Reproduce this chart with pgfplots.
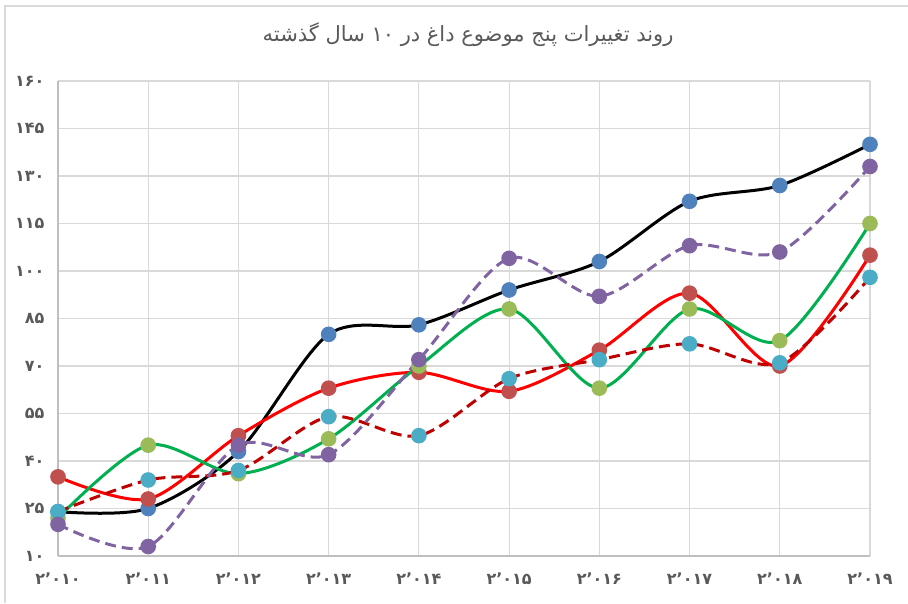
\documentclass[border=0pt]{standalone}
\usepackage{fontspec}
\usepackage{pgfplots}
\pgfplotsset{compat=1.18}
\TeXXeTstate=1
\newfontfamily\arabicfont[Script=Arabic]{DejaVu Sans}
\definecolor{mblue}{HTML}{4F81BD}
\definecolor{mred}{HTML}{C0504D}
\definecolor{mgreen}{HTML}{9BBB59}
\definecolor{mcyan}{HTML}{4BACC6}
\definecolor{mpurple}{HTML}{8064A2}
\definecolor{lgreen}{HTML}{00B050}
\definecolor{lred}{HTML}{FF0000}
\definecolor{ldred}{HTML}{C00000}
\definecolor{gridgray}{HTML}{D9D9D9}
\definecolor{axgray}{HTML}{BFBFBF}
\definecolor{txtgray}{HTML}{595959}
\begin{document}
\begin{tikzpicture}
\path[use as bounding box] (0,0) rectangle (908pt,603pt);
\draw[gridgray, line width=1.5pt] (5pt,0) -- (5pt,597pt) -- (908pt,597pt);
\begin{axis}[
  at={(58pt,47pt)}, anchor=south west,
  width=812pt, height=475pt, scale only axis,
  xmin=2010, xmax=2019, ymin=10, ymax=160,
  xtick={2010,2011,2012,2013,2014,2015,2016,2017,2018,2019},
  xticklabels={۲٬۰۱۰,۲٬۰۱۱,۲٬۰۱۲,۲٬۰۱۳,۲٬۰۱۴,۲٬۰۱۵,۲٬۰۱۶,۲٬۰۱۷,۲٬۰۱۸,۲٬۰۱۹},
  ytick={10,25,40,55,70,85,100,115,130,145,160},
  yticklabels={۱۰,۲۵,۴۰,۵۵,۷۰,۸۵,۱۰۰,۱۱۵,۱۳۰,۱۴۵,۱۶۰},
  grid=major,
  major grid style={draw=gridgray, line width=1.2pt},
  axis lines=left,
  axis line style={-, draw=axgray, line width=1.5pt},
  tick style={draw=none},
  ticklabel style={font=\arabicfont\bfseries\fontsize{16}{18}\selectfont, text=txtgray},
  xticklabel style={yshift=-11pt},
  yticklabel style={xshift=-8pt},
  title={\arabicfont\fontsize{21}{24}\selectfont\beginR روند تغییرات پنج موضوع داغ در ۱۰ سال گذشته\endR},
  title style={at={(0.505,1)}, anchor=center, yshift=40pt, text=txtgray},
  every axis plot/.append style={smooth, line width=3pt, mark=*, mark size=6.3pt},
  clip=false,
]
% series 1: black line, blue markers
\addplot[black, mark options={solid, fill=mblue, draw=mblue}] coordinates {
(2010,24) (2011,25) (2012,43) (2013,80) (2014,83) (2015,94) (2016,103) (2017,122) (2018,127) (2019,140)};
% series 2: red line, red markers
\addplot[lred, mark options={solid, fill=mred, draw=mred}] coordinates {
(2010,35) (2011,28) (2012,48) (2013,63) (2014,68) (2015,62) (2016,75) (2017,93) (2018,70) (2019,105)};
% series 3: green line, light green markers
\addplot[lgreen, mark options={solid, fill=mgreen, draw=mgreen}] coordinates {
(2010,22) (2011,45) (2012,36) (2013,47) (2014,70) (2015,88) (2016,63) (2017,88) (2018,78) (2019,115)};
% series 4: dark red dashed, cyan markers
\addplot[ldred, dash pattern=on 11pt off 6pt, mark options={solid, fill=mcyan, draw=mcyan}] coordinates {
(2010,24) (2011,34) (2012,37) (2013,54) (2014,48) (2015,66) (2016,72) (2017,77) (2018,71) (2019,98)};
% series 5: purple dashed, purple markers
\addplot[mpurple, dash pattern=on 11pt off 6pt, mark options={solid, fill=mpurple, draw=mpurple}] coordinates {
(2010,20) (2011,13) (2012,45) (2013,42) (2014,72) (2015,104) (2016,92) (2017,108) (2018,106) (2019,133)};
\end{axis}
\end{tikzpicture}
\end{document}
